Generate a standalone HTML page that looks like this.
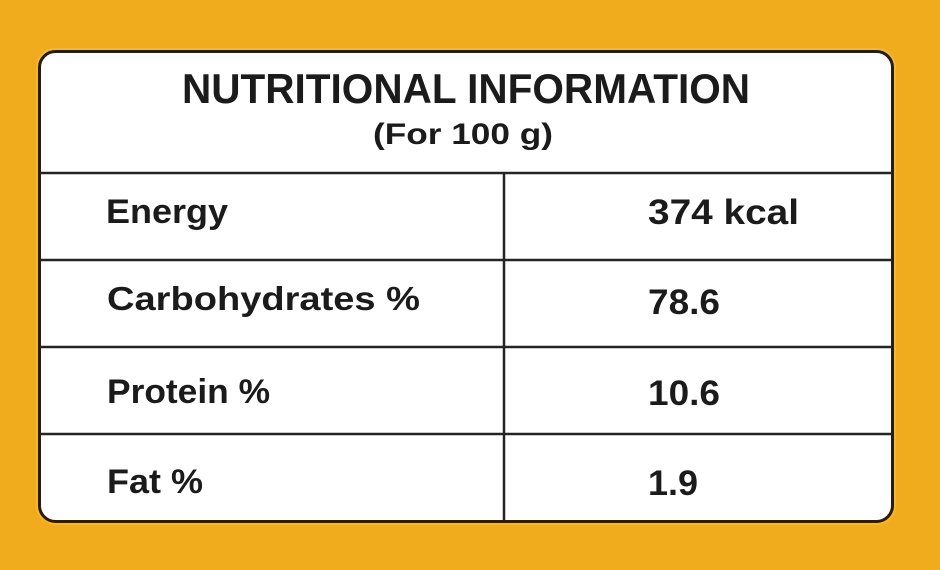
<!DOCTYPE html>
<html>
<head>
<meta charset="utf-8">
<style>
  html, body { margin: 0; padding: 0; background: #F1AC1E; }
  svg { display: block; }
  text { font-family: "Liberation Sans", "DejaVu Sans", sans-serif; font-weight: bold; fill: #1b1b1b; }
</style>
</head>
<body>
<svg width="940" height="570" viewBox="0 0 940 570" xmlns="http://www.w3.org/2000/svg">
  <rect x="0" y="0" width="940" height="570" fill="#F1AC1E"/>
  <rect x="36" y="48" width="860" height="477" rx="19" fill="#F6C443" opacity="0.5"/>
  <rect x="39.5" y="51.5" width="853" height="470" rx="16" fill="#ffffff" stroke="#2a1c0c" stroke-width="3"/>
  <g stroke="#242424" stroke-width="2.5">
    <line x1="40" y1="173" x2="892" y2="173"/>
    <line x1="40" y1="260" x2="892" y2="260"/>
    <line x1="40" y1="347" x2="892" y2="347"/>
    <line x1="40" y1="434" x2="892" y2="434"/>
    <line x1="504" y1="173" x2="504" y2="521"/>
  </g>
  <text x="182" y="103" font-size="42" textLength="568" lengthAdjust="spacingAndGlyphs">NUTRITIONAL INFORMATION</text>
  <text x="373" y="144" font-size="30" textLength="180" lengthAdjust="spacingAndGlyphs">(For 100 g)</text>

  <text x="106" y="223" font-size="34" textLength="122" lengthAdjust="spacingAndGlyphs">Energy</text>
  <text x="107" y="310" font-size="33" textLength="313" lengthAdjust="spacingAndGlyphs">Carbohydrates %</text>
  <text x="107" y="403" font-size="34" textLength="163" lengthAdjust="spacingAndGlyphs">Protein %</text>
  <text x="107" y="493" font-size="34" textLength="96" lengthAdjust="spacingAndGlyphs">Fat %</text>

  <text x="648" y="224" font-size="35" textLength="151" lengthAdjust="spacingAndGlyphs">374 kcal</text>
  <text x="648" y="314" font-size="35" textLength="72" lengthAdjust="spacingAndGlyphs">78.6</text>
  <text x="648" y="405" font-size="35" textLength="72" lengthAdjust="spacingAndGlyphs">10.6</text>
  <text x="648" y="495" font-size="35" textLength="50" lengthAdjust="spacingAndGlyphs">1.9</text>
</svg>
</body>
</html>
